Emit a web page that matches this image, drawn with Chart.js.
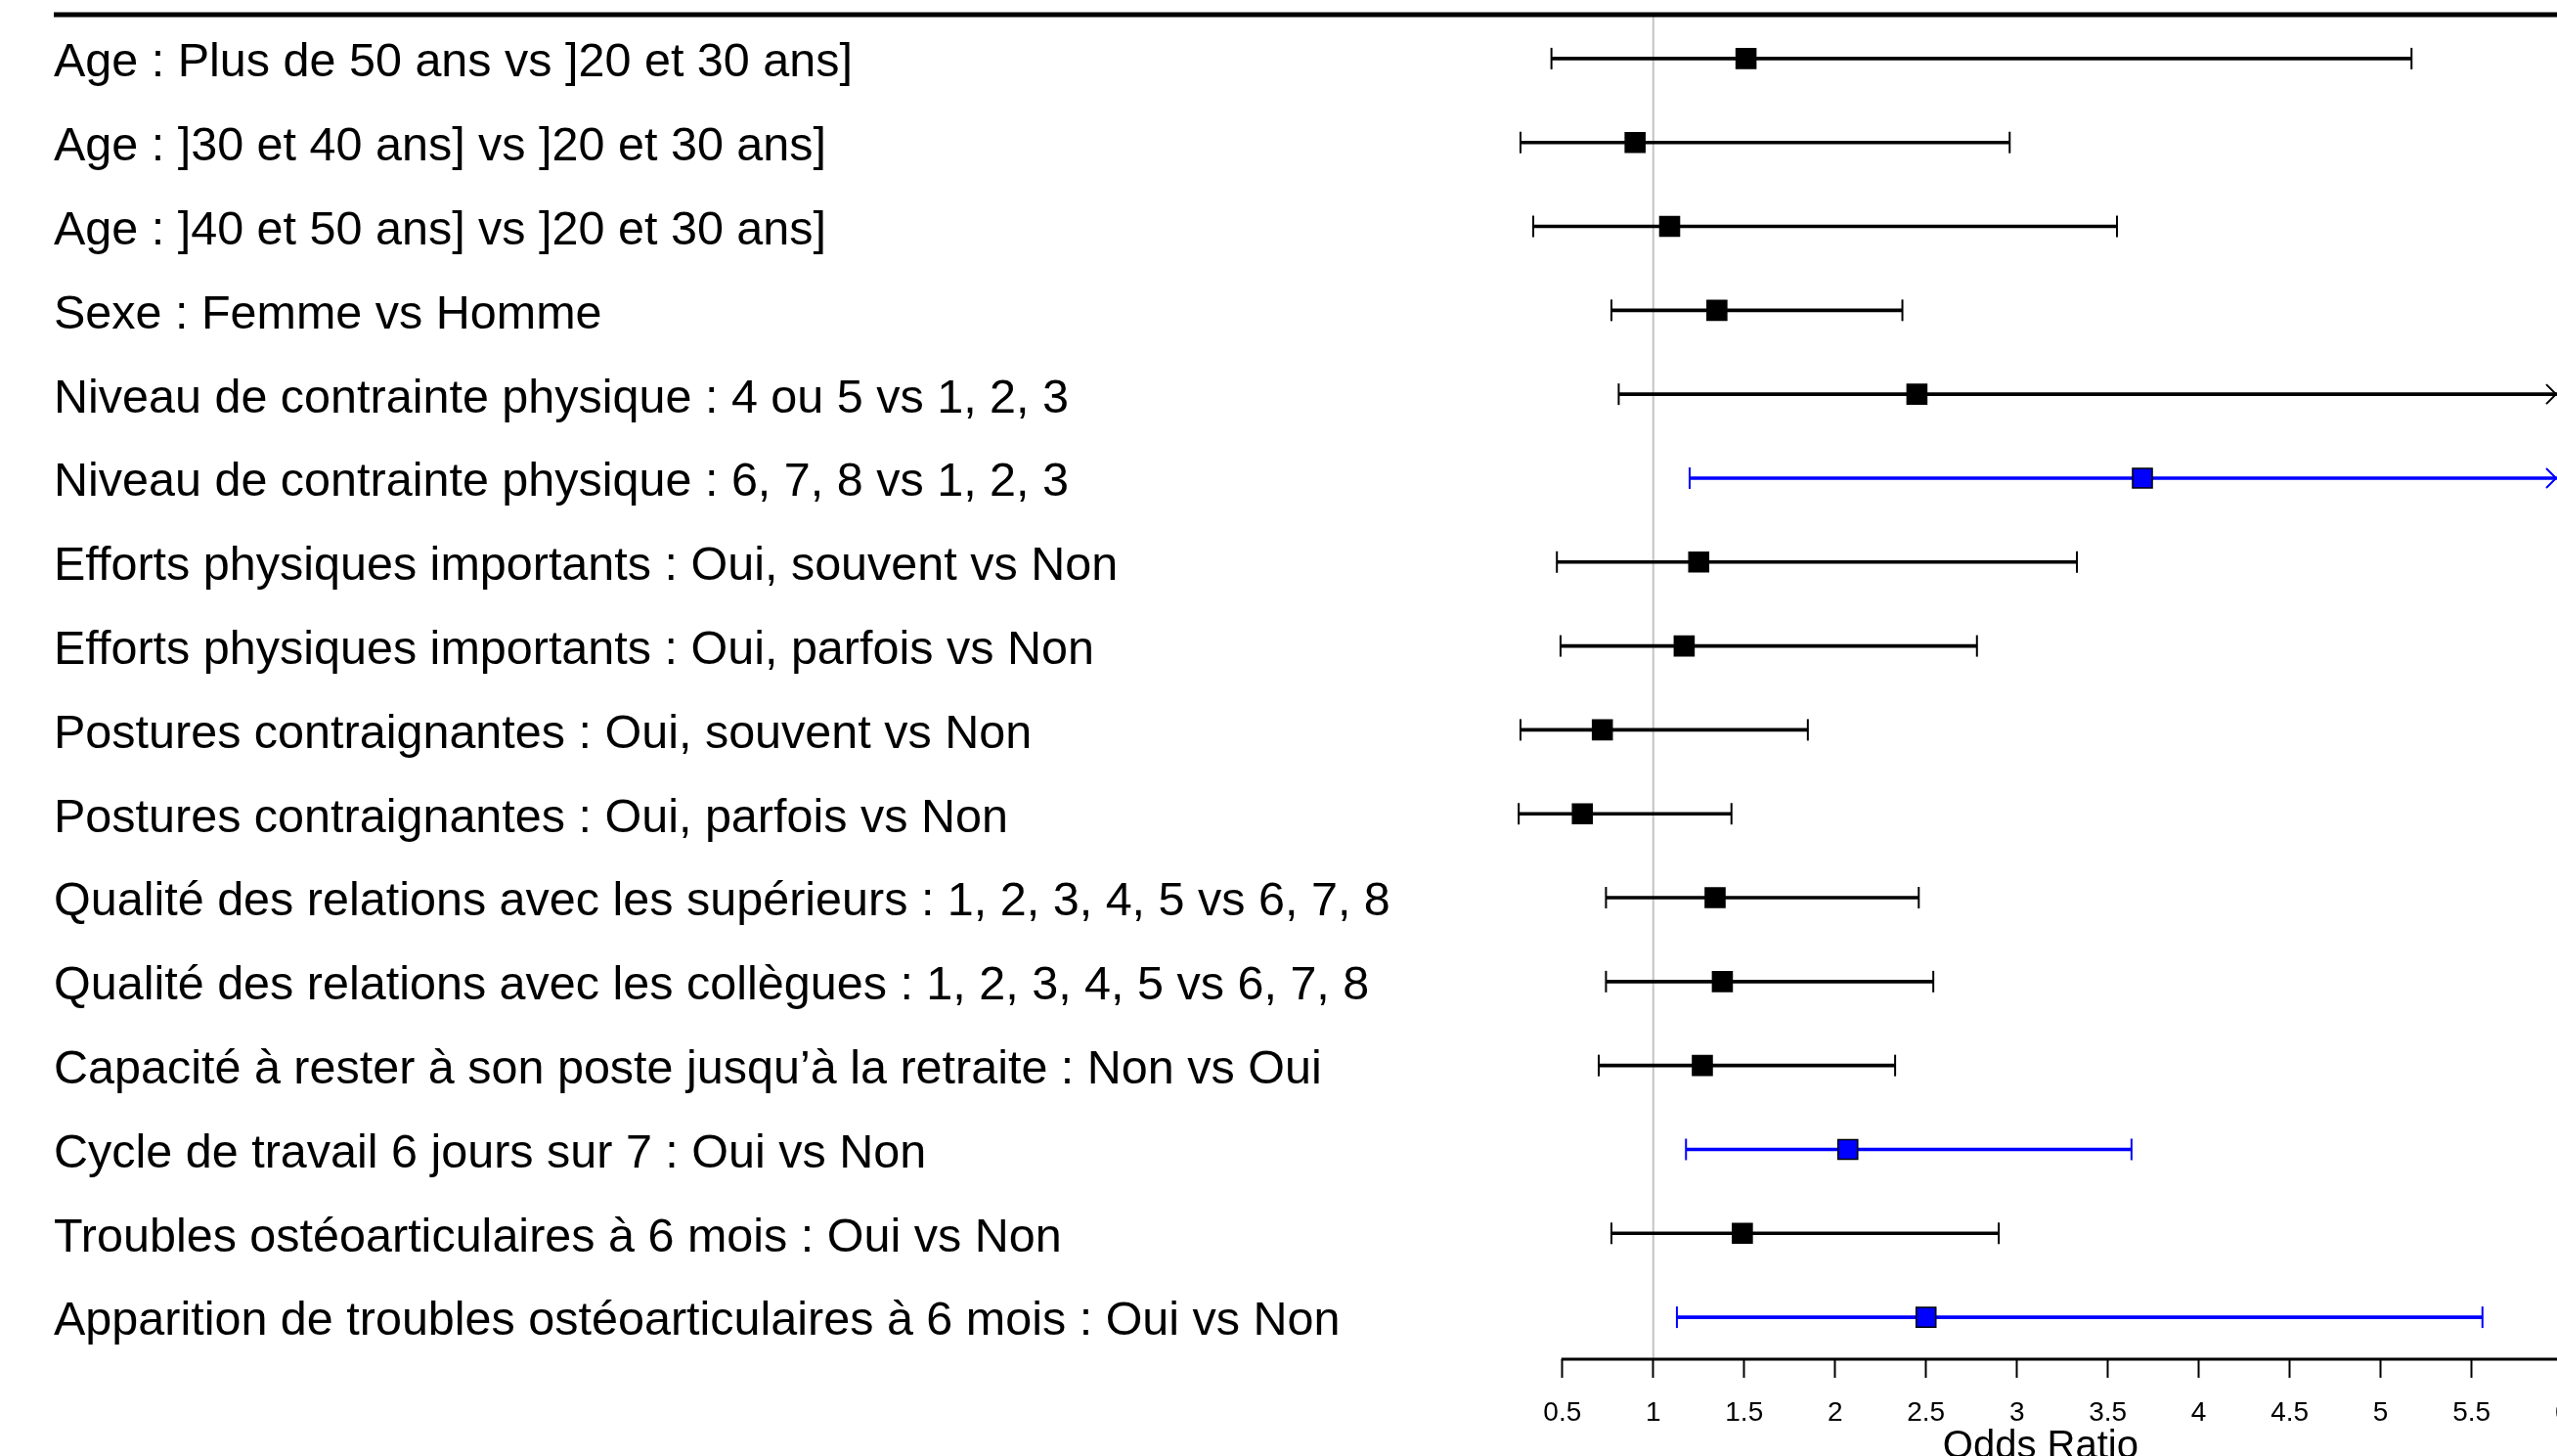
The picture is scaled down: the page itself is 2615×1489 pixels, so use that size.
<!DOCTYPE html>
<html lang="fr">
<head>
<meta charset="utf-8">
<title>Odds Ratio</title>
<script src="https://cdn.jsdelivr.net/npm/chart.js@4/dist/chart.umd.min.js"></script>
<style>
  html, body { margin: 0; padding: 0; background: #fff; }
  #wrap { width: 2615px; height: 1489px; position: relative; }
</style>
</head>
<body>
<div id="wrap"><canvas id="forest"></canvas></div>
<script>
// Forest plot: odds ratios with 95% CI

const LABELS = [
  'Age : Plus de 50 ans vs ]20 et 30 ans]',
  'Age : ]30 et 40 ans] vs ]20 et 30 ans]',
  'Age : ]40 et 50 ans] vs ]20 et 30 ans]',
  'Sexe : Femme vs Homme',
  'Niveau de contrainte physique : 4 ou 5 vs 1, 2, 3',
  'Niveau de contrainte physique : 6, 7, 8 vs 1, 2, 3',
  'Efforts physiques importants : Oui, souvent vs Non',
  'Efforts physiques importants : Oui, parfois vs Non',
  'Postures contraignantes : Oui, souvent vs Non',
  'Postures contraignantes : Oui, parfois vs Non',
  'Qualité des relations avec les supérieurs : 1, 2, 3, 4, 5 vs 6, 7, 8',
  'Qualité des relations avec les collègues : 1, 2, 3, 4, 5 vs 6, 7, 8',
  'Capacité à rester à son poste jusqu\u2019à la retraite : Non vs Oui',
  'Cycle de travail 6 jours sur 7 : Oui vs Non',
  'Troubles ostéoarticulaires à 6 mois : Oui vs Non',
  'Apparition de troubles ostéoarticulaires à 6 mois : Oui vs Non',
]

const ODDS  = [1.51, 0.90, 1.09, 1.35, 2.45, 3.69, 1.25, 1.17, 0.72, 0.61, 1.34, 1.38, 1.27, 2.07, 1.49, 2.50]
const LOWER = [0.44, 0.27, 0.34, 0.77, 0.81, 1.20, 0.47, 0.49, 0.27, 0.26, 0.74, 0.74, 0.70, 1.18, 0.77, 1.13]
// rows 5 and 6: upper bound runs off the axis (arrow), value estimated
const UPPER = [5.17, 2.96, 3.55, 2.37, 7.40, 11.4, 3.33, 2.78, 1.85, 1.43, 2.46, 2.54, 2.33, 3.63, 2.90, 5.56]

const X_TICKS = [0.5, 1, 1.5, 2, 2.5, 3, 3.5, 4, 4.5, 5, 5.5, 6]
const X_MIN = 0.2
const X_MAX = 5.97
const REF_VALUE = 1

const FONT = "'Liberation Sans', Arial, Helvetica, sans-serif"
const PLOT_LEFT = 1542
const LABEL_LEFT = 55

// significant rows (CI above 1) drawn in blue
const colorFor = (i) => (LOWER[i] > 1 ? '#0000ff' : '#000000')
const COLORS = LABELS.map((_, i) => colorFor(i))

const forestDecor = {
  id: 'forestDecor',
  beforeDatasetsDraw(chart) {
    const { ctx, chartArea, scales: { x } } = chart
    const xr = x.getPixelForValue(REF_VALUE)
    ctx.save()
    // reference line at OR = 1
    ctx.strokeStyle = '#c4c4c4'
    ctx.lineWidth = 2
    ctx.beginPath()
    ctx.moveTo(xr, chartArea.top - 2)
    ctx.lineTo(xr, chartArea.bottom)
    ctx.stroke()
    ctx.restore()
  },
  afterDatasetsDraw(chart) {
    const { ctx, chartArea, scales: { x, y } } = chart
    ctx.save()
    ctx.lineWidth = 2
    LABELS.forEach((_, i) => {
      const yp = y.getPixelForValue(i)
      ctx.strokeStyle = COLORS[i]
      // whisker caps
      const xl = x.getPixelForValue(LOWER[i])
      ctx.beginPath()
      ctx.moveTo(xl, yp - 11)
      ctx.lineTo(xl, yp + 11)
      ctx.stroke()
      if (UPPER[i] <= X_MAX) {
        const xh = x.getPixelForValue(UPPER[i])
        ctx.beginPath()
        ctx.moveTo(xh, yp - 11)
        ctx.lineTo(xh, yp + 11)
        ctx.stroke()
      } else {
        // open arrow where the interval leaves the plot
        const xe = chartArea.right - 1
        ctx.beginPath()
        ctx.moveTo(xe - 10, yp - 10)
        ctx.lineTo(xe, yp)
        ctx.lineTo(xe - 10, yp + 10)
        ctx.stroke()
      }
    })
    ctx.restore()
  },
  afterDraw(chart) {
    const { ctx, chartArea, width, scales: { x } } = chart
    ctx.save()
    // thick header rule
    ctx.strokeStyle = '#000'
    ctx.lineWidth = 5
    ctx.beginPath()
    ctx.moveTo(LABEL_LEFT, chartArea.top - 2)
    ctx.lineTo(width, chartArea.top - 2)
    ctx.stroke()
    // x axis line starts at the first tick
    ctx.lineWidth = 3
    ctx.beginPath()
    ctx.moveTo(x.getPixelForValue(X_TICKS[0]) - 1, chartArea.bottom)
    ctx.lineTo(width, chartArea.bottom)
    ctx.stroke()
    // axis title, partly cut by the bottom edge
    ctx.fillStyle = '#000'
    ctx.font = '40px ' + FONT
    ctx.textAlign = 'center'
    ctx.textBaseline = 'top'
    ctx.fillText('Odds Ratio', x.getPixelForValue(3.13), chartArea.bottom + 70)
    ctx.restore()
  }
}

new Chart(document.getElementById('forest'), {
  type: 'bar',
  data: {
    labels: LABELS,
    datasets: [
      {
        type: 'scatter',
        label: 'OR',
        data: ODDS.map((v, i) => ({ x: v, y: LABELS[i] })),
        pointStyle: 'rect',
        pointRadius: 14.2,
        pointHoverRadius: 14.2,
        backgroundColor: COLORS,
        borderColor: '#000',
        borderWidth: 1.5,
        order: 0,
      },
      {
        type: 'bar',
        label: 'IC 95%',
        indexAxis: 'y',
        data: LOWER.map((l, i) => [l, UPPER[i]]),
        backgroundColor: COLORS,
        borderWidth: 0,
        barThickness: 3,
        order: 1,
      },
    ]
  },
  options: {
    indexAxis: 'y',
    responsive: true,
    maintainAspectRatio: false,
    devicePixelRatio: 1,
    animation: false,
    layout: {
      autoPadding: false,
      padding: { top: 17, left: LABEL_LEFT, right: 0, bottom: 0 },
    },
    plugins: {
      legend: { display: false },
      tooltip: { enabled: false },
    },
    scales: {
      x: {
        type: 'linear',
        min: X_MIN,
        max: X_MAX,
        afterBuildTicks: (scale) => { scale.ticks = X_TICKS.map(v => ({ value: v })) },
        afterFit: (scale) => {
          scale.height = 99
          scale.paddingLeft = 0
          scale.paddingRight = 0
        },
        border: { display: false },
        grid: {
          drawOnChartArea: false,
          drawTicks: true,
          tickLength: 19,
          tickWidth: 2,
          tickColor: '#000',
        },
        ticks: {
          font: { family: FONT, size: 28 },
          color: '#000',
          padding: 19,
          maxRotation: 0,
          autoSkip: false,
          callback: (v) => String(v),
        },
      },
      y: {
        type: 'category',
        labels: LABELS,
        offset: true,
        afterFit: (scale) => {
          scale.width = PLOT_LEFT - LABEL_LEFT
          scale.paddingTop = 0
          scale.paddingBottom = 0
        },
        border: { display: false },
        grid: { display: false },
        ticks: {
          crossAlign: 'far',
          labelOffset: 5,
          font: { family: FONT, size: 48.5 },
          color: '#000',
          autoSkip: false,
        },
      },
    },
  },
  plugins: [forestDecor],
})
</script>
</body>
</html>
